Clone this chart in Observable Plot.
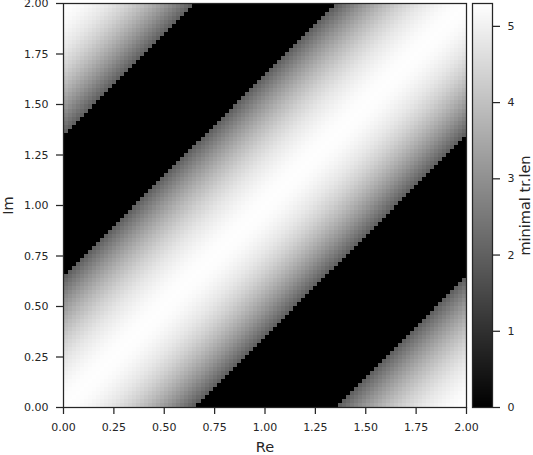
<!DOCTYPE html>
<html>
<head>
<meta charset="utf-8">
<script src="https://cdn.jsdelivr.net/npm/d3@7"></script>
<script src="https://cdn.jsdelivr.net/npm/@observablehq/plot@0.6"></script>
<style>
  body { margin: 0; background: #fff; }
  #chart { position: relative; width: 533px; height: 455px; }
  #chart svg { position: absolute; left: 0; top: 0; }
</style>
</head>
<body>
<div id="chart"></div>
<script>
// Axis ticks
const reTicks = [0, 0.25, 0.5, 0.75, 1, 1.25, 1.5, 1.75, 2];
const imTicks = [0, 0.25, 0.5, 0.75, 1, 1.25, 1.5, 1.75, 2];
const colorTicks = [0, 1, 2, 3, 4, 5];
const valueMax = 5.3;
const gridCells = 100;      // 100 x 100 cells over [0,2] x [0,2]
const gridExtent = [0, 2];

// Profile read across the diagonal bands: distance |Re - Im| -> minimal tr.len
const bandDist  = [0, 0.05, 0.10, 0.15, 0.20, 0.25, 0.30, 0.35, 0.40, 0.45, 0.50, 0.55, 0.60, 0.65, 0.655,
                   1.345, 1.35, 1.40, 1.45, 1.50, 1.55, 1.60, 1.65, 1.70, 1.75, 1.80, 1.85, 1.90, 1.95, 2.00];
const bandValue = [5.28, 5.25, 5.17, 5.05, 4.89, 4.70, 4.47, 4.20, 3.90, 3.57, 3.21, 2.82, 2.38, 1.92, 0,
                   0, 1.92, 2.38, 2.82, 3.21, 3.57, 3.90, 4.20, 4.47, 4.70, 4.89, 5.05, 5.17, 5.25, 5.28];

const profile = d3.scaleLinear().domain(bandDist).range(bandValue).clamp(true);
const step = (gridExtent[1] - gridExtent[0]) / gridCells;
const grid = [];
for (let i = 0; i < gridCells; ++i) {
  for (let j = 0; j < gridCells; ++j) {
    const re = gridExtent[0] + (i + 0.5) * step;
    const im = gridExtent[0] + (j + 0.5) * step;
    const d = Math.round(Math.abs(re - im) / step) * step;
    grid.push({re, im, v: profile(d)});
  }
}

const ink = "#262626";
const font = "DejaVu Sans, sans-serif";
const colorScale = {type: "linear", domain: [0, valueMax], range: ["#000000", "#ffffff"], interpolate: "rgb"};

const main = Plot.plot({
  width: 533, height: 455,
  marginLeft: 63, marginRight: 67, marginTop: 3, marginBottom: 48,
  style: {fontFamily: font, fontSize: "11px", color: ink, background: "transparent"},
  x: {domain: gridExtent},
  y: {domain: gridExtent},
  color: colorScale,
  marks: [
    Plot.raster(grid, {x: "re", y: "im", fill: "v", width: gridCells, height: gridCells,
      x1: gridExtent[0], x2: gridExtent[1], y1: gridExtent[0], y2: gridExtent[1], imageRendering: "pixelated"}),
    Plot.frame({stroke: ink, strokeWidth: 1.25}),
    Plot.axisX({ticks: reTicks, tickFormat: d3.format(".2f"), tickSize: 7, tickPadding: 9, stroke: ink, strokeWidth: 1.25, label: null}),
    Plot.axisY({ticks: imTicks, tickFormat: d3.format(".2f"), tickSize: 7, tickPadding: 8, stroke: ink, strokeWidth: 1.25, label: null}),
    Plot.text(["Re"], {frameAnchor: "bottom", dy: 40, textAnchor: "middle", lineAnchor: "middle", fontSize: 14.5, fill: ink}),
    Plot.text(["Im"], {frameAnchor: "left", dx: -55, rotate: -90, textAnchor: "middle", lineAnchor: "middle", fontSize: 14.5, fill: ink})
  ]
});

const bar = Plot.plot({
  width: 533, height: 455,
  marginLeft: 472, marginRight: 41, marginTop: 3, marginBottom: 48,
  style: {fontFamily: font, fontSize: "11px", color: ink, background: "transparent"},
  x: {domain: [0, 1], axis: null},
  y: {domain: [0, valueMax]},
  color: colorScale,
  marks: [
    Plot.raster({fill: (x, y) => y, x1: 0, x2: 1, y1: 0, y2: valueMax, width: 2, height: 404}),
    Plot.frame({stroke: ink, strokeWidth: 1.25}),
    Plot.axisY({anchor: "right", ticks: colorTicks, tickFormat: d3.format("d"), tickSize: 7, tickPadding: 8, stroke: ink, strokeWidth: 1.25, label: null}),
    Plot.text(["minimal tr.len"], {frameAnchor: "right", dx: 33, rotate: -90, textAnchor: "middle", lineAnchor: "middle", fontSize: 14.5, fill: ink})
  ]
});

const chart = document.getElementById("chart");
chart.appendChild(main);
chart.appendChild(bar);
</script>
</body>
</html>
